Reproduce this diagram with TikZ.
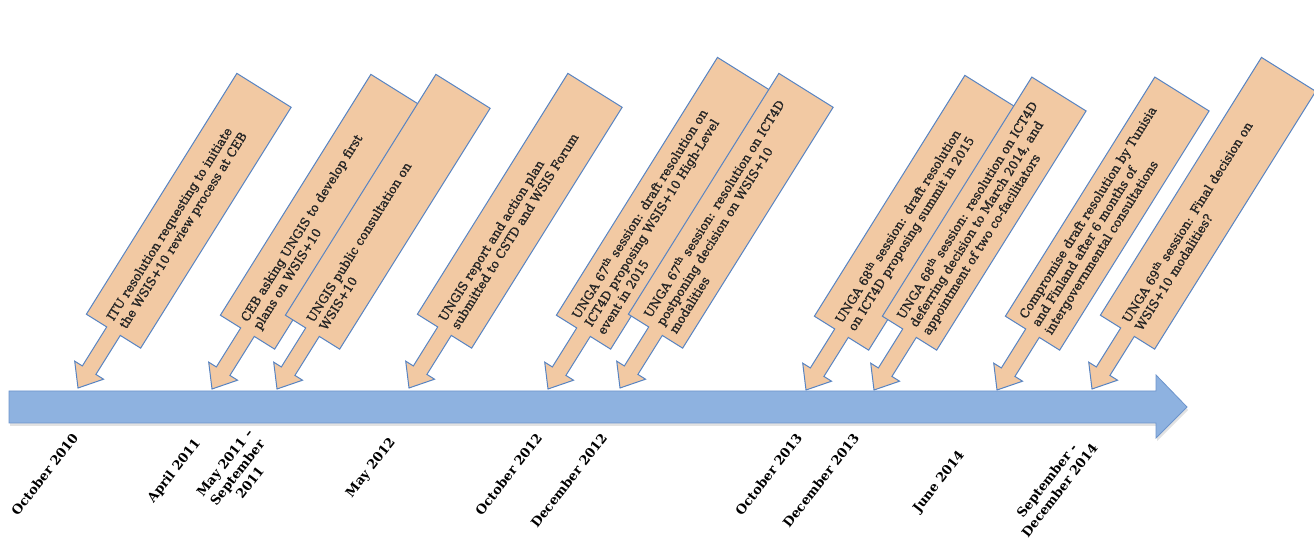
\documentclass[tikz,border=0pt]{standalone}
\usepackage{fontspec}
\setmainfont{DejaVu Serif}
\newfontfamily\calloutfont[FakeBold=1.6]{DejaVu Serif}
\definecolor{peach}{RGB}{242,201,163}
\definecolor{cbord}{RGB}{88,132,194}
\definecolor{barfill}{RGB}{142,178,224}
\definecolor{barbord}{RGB}{108,148,204}
\tikzset{
  callout/.style={fill=peach, draw=cbord, line width=1pt, line join=miter},
  ctext/.style={anchor=west, rotate=58, inner sep=0pt, align=left,
    font=\calloutfont\fontsize{12.2}{15}\selectfont, text=black!85},
  datelbl/.style={anchor=north east, rotate=52, inner sep=0pt, align=center,
    font=\fontsize{13}{16}\selectfont\bfseries},
  timebar/.style={fill=barfill, draw=barbord, line width=0.8pt},
}
% #1 name, #2 tip x, #3 tip y (pixel, from top), #4 box length, #5 text width, #6 text
\newcommand\mycallout[6]{%
  \begin{scope}[shift={(#2,549-#3)}, rotate=58]
    \draw[callout] (0,0) -- (21,17) -- (21,8) -- (67,8) -- (67,32) -- ({67+#4},32)
      -- ({67+#4},-32) -- (67,-32) -- (67,-8) -- (21,-8) -- (21,-17) -- cycle;
    \node[ctext, text width=#5] (#1) at (75,1) {#6};
  \end{scope}}
\begin{document}
\begin{tikzpicture}[x=1pt,y=1pt]
  \useasboundingbox (0,0) rectangle (1314,549);
  \fill[white] (0,0) rectangle (1314,549);
  % shadow of the time bar
  \fill[black!25, opacity=0.45] (10,123) -- (1157,123) -- (1157,108) -- (1188,139)
     -- (1157,171) -- (1157,155) -- (10,155) -- cycle;
  % time bar
  \draw[timebar] (9,126) -- (1156,126) -- (1156,111) -- (1187,142) -- (1156,174)
     -- (1156,158) -- (9,158) -- cycle;
  % callouts
  \mycallout{c1}{78}{388}{284}{272pt}{ITU resolution requesting to initiate\\the WSIS+10 review process at CEB}
  \mycallout{c2}{212}{389}{284}{272pt}{CEB asking UNGIS to develop first\\plans on WSIS+10}
  \mycallout{c3}{277}{389}{284}{272pt}{UNGIS public consultation on\\WSIS+10}
  \mycallout{c4}{409}{388}{284}{272pt}{UNGIS report and action plan\\submitted to CSTD and WSIS Forum}
  \mycallout{c5}{548}{389}{304}{292pt}{UNGA 67\textsuperscript{th} session: draft resolution on\\ICT4D proposing WSIS+10 High-Level\\event in 2015}
  \mycallout{c6}{620}{388}{284}{272pt}{UNGA 67\textsuperscript{th} session: resolution on ICT4D\\postponing decision on WSIS+10\\modalities}
  \mycallout{c7}{806}{390}{284}{272pt}{UNGA 68\textsuperscript{th} session: draft resolution\\on ICT4D proposing summit in 2015}
  \mycallout{c8}{874}{390}{282}{272pt}{UNGA 68\textsuperscript{th} session: resolution on ICT4D\\deferring decision to March 2014, and\\appointment of two co-facilitators}
  \mycallout{c9}{997}{390}{282}{272pt}{Compromise draft resolution by Tunisia\\and Finland after 6 months of\\intergovernmental consultations}
  \mycallout{c10}{1092}{389}{304}{292pt}{UNGA 69\textsuperscript{th} session: Final decision on\\WSIS+10 modalities?}
  % date labels
  \node[datelbl] (d1) at (71,549-432) {October 2010};
  \node[datelbl] (d2) at (193,549-437) {April 2011};
  \node[datelbl] (d3) at (246,549-427) {May 2011 –\\September\\2011};
  \node[datelbl] (d4) at (388,549-436) {May 2012};
  \node[datelbl] (d5) at (535,549-432) {October 2012};
  \node[datelbl] (d6) at (600,549-432) {December 2012};
  \node[datelbl] (d7) at (795,549-432) {October 2013};
  \node[datelbl] (d8) at (852,549-432) {December 2013};
  \node[datelbl] (d9) at (957,549-449) {June 2014};
  \node[datelbl] (d10) at (1078,549-432) {September -\\December 2014};
\end{tikzpicture}
\end{document}
